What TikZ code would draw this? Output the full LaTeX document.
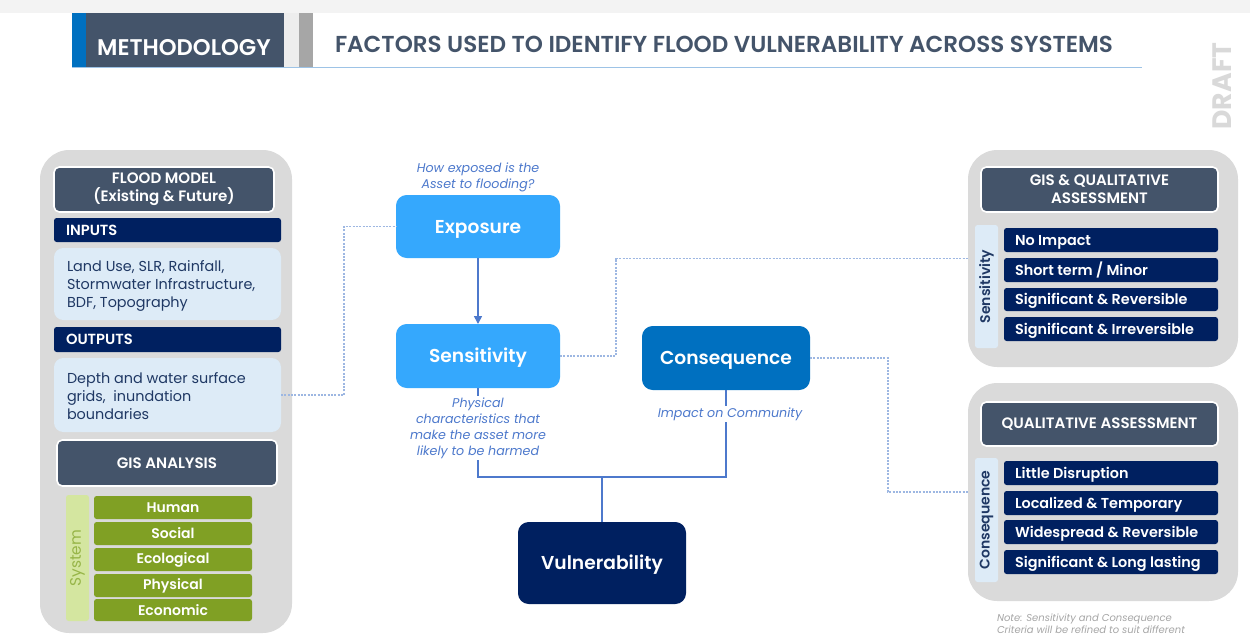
\documentclass[tikz,border=0pt]{standalone}
\usepackage{fontspec}
\setmainfont{Poppins}
\newfontfamily\semib{Poppins SemiBold}
\usetikzlibrary{arrows.meta}

\definecolor{slate}{HTML}{44546A}
\definecolor{navy}{HTML}{002060}
\definecolor{accentblue}{HTML}{0070C0}
\definecolor{paleblue}{HTML}{DDEBF7}
\definecolor{brightblue}{HTML}{35A8FD}
\definecolor{consblue}{HTML}{0070C0}
\definecolor{olive}{HTML}{80A024}
\definecolor{palegreen}{HTML}{D4E6A0}
\definecolor{sysgreen}{HTML}{97B548}
\definecolor{panelgray}{HTML}{DADADA}
\definecolor{topgray}{HTML}{F3F3F3}
\definecolor{gapgray}{HTML}{EDEDED}
\definecolor{linkblue}{HTML}{4D79CC}
\definecolor{dotblue}{HTML}{9DB7E2}
\definecolor{textnavy}{HTML}{1F3864}
\definecolor{notegray}{HTML}{A6A6A6}
\definecolor{draftgray}{HTML}{D9D9D9}
\definecolor{rulecolor}{HTML}{9DC3E6}

\newcommand{\fsz}[2]{\fontsize{#1}{#2}\selectfont}

\begin{document}
\begin{tikzpicture}[x=0.75pt,y=-0.75pt,
  sz/.style 2 args={minimum width=#1*0.75pt, minimum height=#2*0.75pt},
  plain/.style={inner sep=0pt, outer sep=0pt},
  panel/.style={plain, fill=panelgray, rounded corners=22pt},
  hdr/.style={plain, fill=slate, draw=white, line width=1.2pt, rounded corners=4pt,
    text=white, align=center, font=\semib\fsz{11.3}{13.5}},
  navybar/.style={plain, fill=navy, rounded corners=2pt},
  bartxt/.style={plain, anchor=base west, text=white, font=\semib\fsz{11}{13}},
  lbox/.style={plain, fill=paleblue, rounded corners=7pt},
  boxtxt/.style={plain, anchor=west, align=left, text=textnavy, font=\fsz{10.8}{13.2}},
  greenrow/.style={plain, fill=olive, rounded corners=2pt, text=white,
    font=\semib\fsz{10.5}{12}},
  siderail/.style={plain, rounded corners=2pt},
  railtxt/.style={plain, rotate=90},
  critrow/.style={plain, fill=navy, rounded corners=2pt},
  crittxt/.style={plain, anchor=base west, text=white, font=\semib\fsz{10.8}{13}},
  mainbox/.style={plain, rounded corners=8pt, text=white, font=\semib\fsz{14}{16},
    text height=9.8pt, text depth=0pt},
  note/.style={inner sep=1pt, text=linkblue, align=center, fill=white,
    font=\itshape\fsz{9.5}{12}},
  dotline/.style={draw=dotblue, line width=0.8pt, dash pattern=on 1.5pt off 1pt},
  solidline/.style={draw=linkblue, line width=1.2pt}]

\useasboundingbox (0,0) rectangle (1250,637);
\fill[white] (0,0) rectangle (1250,637);
\fill[topgray] (0,0) rectangle (1250,13);

% ---------- title banner ----------
\node[plain, sz={14}{54}, fill=accentblue] (hstripe) at (79,40) {};
\node[plain, sz={198}{54}, fill=slate] (hmeth) at (185,40) {};
\node[plain, sz={15}{54}, fill=gapgray] (hgap) at (291.5,40) {};
\node[plain, sz={14}{54}, fill=notegray] (hbar) at (306,40) {};
\node[plain, text=white, font=\semib\fsz{17}{20}] (methtxt) at (184,48) {METHODOLOGY};
\node[plain, anchor=west, text=slate, font=\semib\fsz{17.3}{19}] (htitle) at (335,44)
  {FACTORS USED TO IDENTIFY FLOOD VULNERABILITY ACROSS SYSTEMS};
\draw[rulecolor, line width=0.8pt] (72,67.5) -- (1142,67.5);
\node[plain, rotate=90, text=draftgray, font=\bfseries\fsz{20}{20}] (draft) at (1222,86) {DRAFT};

% ---------- left panel: flood model and GIS analysis ----------
\node[panel, sz={252}{483}] (lpanel) at (166,391.5) {};
\node[hdr, sz={220}{45}] (fm) at (164,189.5) {FLOOD MODEL\\(Existing \& Future)};
\node[navybar, sz={227}{24}] (inp) at (167.5,230) {};
\node[bartxt] (inptxt) at (66,235) {INPUTS};
\node[lbox, sz={227}{72}] (inbox) at (167.5,284) {};
\node[boxtxt] (intxt) at (67,286) {Land Use, SLR, Rainfall,\\Stormwater Infrastructure,\\BDF, Topography};
\node[navybar, sz={227}{25}] (outp) at (167.5,339.5) {};
\node[bartxt] (outptxt) at (66,344.5) {OUTPUTS};
\node[lbox, sz={227}{74}] (outbox) at (167.5,395) {};
\node[boxtxt] (outtxt) at (67,396) {Depth and water surface\\grids,\ \ inundation\\boundaries};
\node[hdr, sz={220}{46}] (gis) at (167,463) {GIS ANALYSIS};

\node[siderail, fill=palegreen, sz={23}{126}] (sysrail) at (77.5,558) {};
\node[railtxt, text=sysgreen, font=\fsz{11.5}{13}] (systxt) at (sysrail.center) {System};
\node[greenrow, sz={158}{23}] (g1) at (173,507.5) {Human};
\node[greenrow, sz={158}{23}] (g2) at (173,533.5) {Social};
\node[greenrow, sz={158}{23}] (g3) at (173,559.5) {Ecological};
\node[greenrow, sz={158}{23}] (g4) at (173,585.5) {Physical};
\node[greenrow, sz={158}{22}] (g5) at (173,610) {Economic};

% ---------- right panel: sensitivity criteria ----------
\node[panel, sz={270}{217}] (p1) at (1103,258.5) {};
\node[hdr, sz={237}{45}] (gq) at (1099.5,189.5) {GIS \& QUALITATIVE\\ASSESSMENT};
\node[siderail, fill=paleblue, sz={23}{123}] (srail) at (986.5,286.5) {};
\node[railtxt, text=textnavy, font=\semib\fsz{10.5}{12}] (srailtxt) at (srail.center) {Sensitivity};
\node[critrow, sz={214}{24}] (s1) at (1111,240) {};
\node[critrow, sz={214}{24}] (s2) at (1111,270) {};
\node[critrow, sz={214}{23}] (s3) at (1111,299.5) {};
\node[critrow, sz={214}{24}] (s4) at (1111,329) {};
\node[crittxt] (s1t) at (1015,245) {No Impact};
\node[crittxt] (s2t) at (1015,275) {Short term / Minor};
\node[crittxt] (s3t) at (1015,304.5) {Significant \& Reversible};
\node[crittxt] (s4t) at (1015,334) {Significant \& Irreversible};

% ---------- right panel: consequence criteria ----------
\node[panel, sz={270}{218}] (p2) at (1103,492) {};
\node[hdr, sz={237}{44}] (qa) at (1099.5,424) {QUALITATIVE ASSESSMENT};
\node[siderail, fill=paleblue, sz={23}{124}] (crail) at (986.5,520) {};
\node[railtxt, text=textnavy, font=\semib\fsz{10.5}{12}] (crailtxt) at (crail.center) {Consequence};
\node[critrow, sz={214}{24}] (c1) at (1111,473) {};
\node[critrow, sz={214}{24}] (c2) at (1111,503) {};
\node[critrow, sz={214}{24}] (c3) at (1111,532) {};
\node[critrow, sz={214}{24}] (c4) at (1111,562) {};
\node[crittxt] (c1t) at (1015,478) {Little Disruption};
\node[crittxt] (c2t) at (1015,508) {Localized \& Temporary};
\node[crittxt] (c3t) at (1015,537) {Widespread \& Reversible};
\node[crittxt] (c4t) at (1015,567) {Significant \& Long lasting};
\node[plain, anchor=north west, align=left, text=notegray, font=\itshape\fsz{7.5}{9}] (notetxt)
  at (997,614) {Note: Sensitivity and Consequence\\Criteria will be refined to suit different};

% ---------- central framework ----------
\node[mainbox, fill=brightblue, sz={164}{63}] (expo) at (478,226.5) {Exposure};
\node[mainbox, fill=brightblue, sz={164}{64}] (sens) at (478,356) {Sensitivity};
\node[mainbox, fill=consblue, sz={168}{64}] (cons) at (726,358) {Consequence};
\node[mainbox, fill=navy, sz={168}{82}] (vuln) at (602,563) {Vulnerability};

% dotted links to the supporting analyses
\draw[dotline] (outbox.east) -- ++(63,0) |- (expo.west);
\draw[dotline] (sens.east) -- ++(56,0) |- (p1.west);
\draw[dotline] (cons.east) -- ++(78,0) |- (p2.west);

% solid flow
\draw[solidline, -{Triangle[length=6pt,width=6pt]}] (expo.south) -- (sens.north);
\draw[solidline] (sens.south) -- ++(0,89) coordinate (jl) -| (cons.south);
\draw[solidline] (vuln.north) -- (vuln.north |- jl);

% annotations
\node[note, fill=none] (expnote) at (478,177) {How exposed is the\\Asset to flooding?};
\node[note, anchor=north] (sensnote) at (478,396) {Physical\\characteristics that\\make the asset more\\likely to be harmed};
\node[note] (consnote) at (730,414) {Impact on Community};
\end{tikzpicture}
\end{document}
